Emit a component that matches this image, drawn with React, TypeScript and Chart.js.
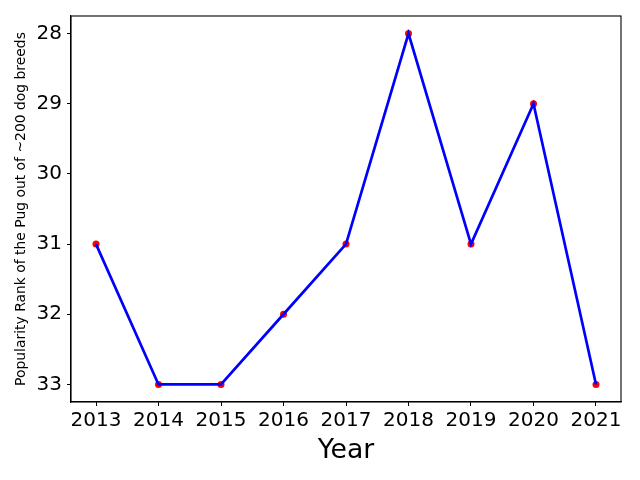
import React, { useEffect, useRef } from "react";
import { Chart, registerables } from "chart.js";

Chart.register(...registerables);

const years = [2013, 2014, 2015, 2016, 2017, 2018, 2019, 2020, 2021];
const ranks = [31, 33, 33, 32, 31, 28, 31, 29, 33];
const yTicks = [28, 29, 30, 31, 32, 33];

const FONT = "'DejaVu Sans', sans-serif";

const boxPlugin = {
  id: "box",
  afterDraw(chart: any) {
    const { ctx, chartArea } = chart;
    ctx.save();
    ctx.strokeStyle = "#000";
    ctx.lineWidth = 1.1;
    ctx.strokeRect(chartArea.left, chartArea.top, chartArea.right - chartArea.left, chartArea.bottom - chartArea.top);
    ctx.restore();
  },
};

export default function App() {
  const ref = useRef<HTMLCanvasElement>(null);
  useEffect(() => {
    if (!ref.current) return;
    const pts = years.map((y, i) => ({ x: y, y: ranks[i] }));
    const chart = new Chart(ref.current, {
      type: "line",
      data: {
        datasets: [
          {
            data: pts,
            borderColor: "#0000ff",
            borderWidth: 2.7,
            pointRadius: 0,
            tension: 0,
            order: 1,
          },
          {
            data: pts,
            showLine: false,
            pointRadius: 3.5,
            pointBackgroundColor: "#ff0000",
            pointBorderWidth: 0,
            order: 2,
          },
        ],
      },
      options: {
        animation: false,
        responsive: false,
        devicePixelRatio: 1,
        layout: { padding: { top: 16, right: 19, left: 0, bottom: 0 } },
        plugins: { legend: { display: false }, tooltip: { enabled: false } },
        scales: {
          x: {
            type: "linear",
            min: 2012.6,
            max: 2021.4,
            afterBuildTicks: (s: any) => {
              s.ticks = years.map((v) => ({ value: v }));
            },
            afterFit: (s: any) => {
              s.height = 78;
              s.paddingLeft = 0;
              s.paddingRight = 0;
            },
            grid: { display: true, drawOnChartArea: false, drawTicks: true, tickLength: 4, color: "#000" },
            border: { display: true, color: "#000", width: 1.1 },
            ticks: {
              color: "#000",
              font: { family: FONT, size: 20 },
              padding: 3,
              maxRotation: 0,
              autoSkip: false,
              callback: (v: any) => String(v),
            },
            title: {
              display: true,
              text: "Year",
              color: "#000",
              font: { family: FONT, size: 26.7 },
              padding: { top: 0, bottom: 13 },
            },
          },
          y: {
            type: "linear",
            reverse: true,
            min: 27.75,
            max: 33.25,
            afterBuildTicks: (s: any) => {
              s.ticks = yTicks.map((v) => ({ value: v }));
            },
            afterFit: (s: any) => {
              s.width = 71;
              s.paddingTop = 0;
              s.paddingBottom = 0;
            },
            grid: { display: true, drawOnChartArea: false, drawTicks: true, tickLength: 4, color: "#000" },
            border: { display: true, color: "#000", width: 1.1 },
            ticks: {
              color: "#000",
              font: { family: FONT, size: 20 },
              padding: 5,
              autoSkip: false,
              callback: (v: any) => String(v),
            },
            title: {
              display: true,
              text: "Popularity Rank of the Pug out of ~200 dog breeds",
              color: "#000",
              font: { family: FONT, size: 13.9 },
              padding: { top: 13, bottom: 0 },
            },
          },
        },
      },
      plugins: [boxPlugin],
    });
    return () => chart.destroy();
  }, []);
  return (
    <div style={{ position: "fixed", left: 0, top: 0, width: 640, height: 480, background: "#fff" }}>
      <canvas ref={ref} width={640} height={480} style={{ width: 640, height: 480 }} />
    </div>
  );
}
